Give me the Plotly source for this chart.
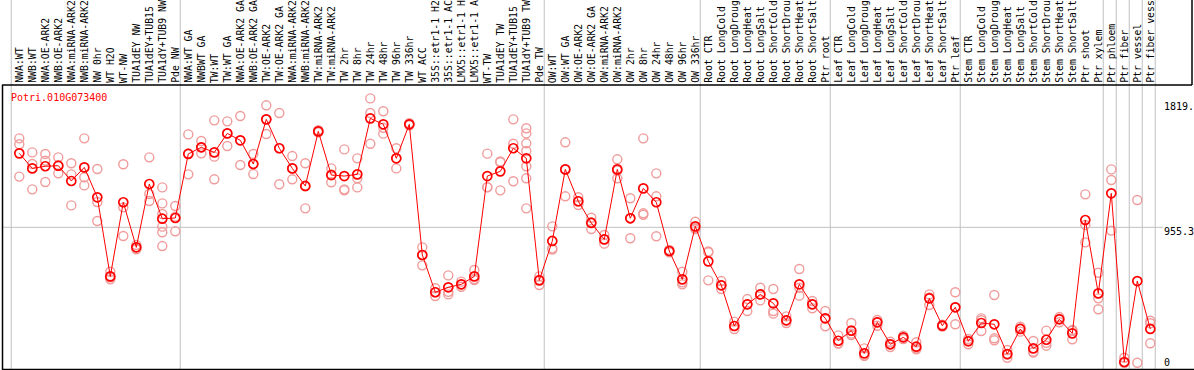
import plotly.graph_objects as go

title = "Potri.010G073400"

categories = [
    "NWA:WT", "NWB:WT", "NWA:OE-ARK2", "NWB:OE-ARK2", "NWA:miRNA-ARK2", "NWB:miRNA-ARK2",
    "NW 0hr", "WT H2O", "WT-NW", "TUA1dEY NW", "TUA1dEY+TUB15 NW", "TUA1dY+TUB9 NW", "Pde NW",
    "NWA:WT GA", "NWBWT GA", "TW:WT", "TW:WT GA", "NWA:OE-ARK2 GA", "NWB:OE-ARK2 GA",
    "TW:OE-ARK2", "TW:OE-ARK2 GA", "NWA:miRNA-ARK2 GA", "NWB:miRNA-ARK2 GA", "TW:miRNA-ARK2",
    "TW:miRNA-ARK2 GA", "TW 2hr", "TW 8hr", "TW 24hr", "TW 48hr", "TW 96hr", "TW 336hr",
    "WT ACC", "35S::etr1-1 H2O", "35S::etr1-1 ACC", "LMX5::etr1-1 H2O", "LMX5::etr1-1 ACC",
    "WT-TW", "TUA1dEY TW", "TUA1dEY+TUB15 TW", "TUA1dY+TUB9 TW", "Pde TW",
    "OW:WT", "OW:WT GA", "OW:OE-ARK2", "OW:OE-ARK2 GA", "OW:miRNA-ARK2", "OW:miRNA-ARK2 GA",
    "OW 2hr", "OW 8hr", "OW 24hr", "OW 48hr", "OW 96hr", "OW 336hr",
    "Root CTR", "Root LongCold", "Root LongDrought", "Root LongHeat", "Root LongSalt",
    "Root ShortCold", "Root ShortDrought", "Root ShortHeat", "Root ShortSalt", "Ptr root",
    "Leaf CTR", "Leaf LongCold", "Leaf LongDrought", "Leaf LongHeat", "Leaf LongSalt",
    "Leaf ShortCold", "Leaf ShortDrought", "Leaf ShortHeat", "Leaf ShortSalt", "Ptr leaf",
    "Stem CTR", "Stem LongCold", "Stem LongDrought", "Stem LongHeat", "Stem LongSalt",
    "Stem ShortCold", "Stem ShortDrought", "Stem ShortHeat", "Stem ShortSalt", "Ptr shoot",
    "Ptr xylem", "Ptr phloem", "Ptr fiber", "Ptr vessel", "Ptr fiber vessel",
]

means = [
    1477, 1371, 1386, 1390, 1282, 1378, 1167, 609, 1132, 814, 1261, 1016, 1021,
    1473, 1520, 1484, 1618, 1569, 1402, 1717, 1513, 1371, 1247, 1632, 1324, 1317, 1329,
    1724, 1682, 1442, 1682, 760, 497, 532, 553, 609, 1317, 1350, 1513, 1442, 581,
    859, 1364, 1139, 986, 870, 1364, 1019, 1230, 1132, 788, 588, 962,
    715, 546, 259, 412, 482, 419, 299, 553, 412, 313,
    155, 226, 66, 285, 130, 179, 113, 454, 261, 391,
    151, 280, 271, 61, 238, 101, 162, 306, 207, 1007,
    489, 1195, 5, 576, 238,
]

replicates = [
    [1583, 1541, 1313], [1484, 1402, 1223], [1473, 1425, 1275], [1449, 1388, 1336],
    [1407, 1329, 1110], [1583, 1308, 1251], [1367, 1134, 1000], [642, 602, 588],
    [1400, 1096, 894], [830, 814, 800], [1449, 1190, 1141],
    [1237, 1124, 1049, 960, 920, 823], [1106, 1030, 927],
    [1611, 1477, 1329], [1564, 1520, 1477], [1710, 1454, 1294], [1703, 1618, 1529],
    [1741, 1569, 1395], [1473, 1402, 1331], [1816, 1717, 1614], [1762, 1513, 1259],
    [1458, 1371, 1294], [1407, 1244, 1089], [1640, 1632, 1625], [1371, 1328, 1273],
    [1505, 1223, 1216], [1442, 1301, 1237], [1865, 1762, 1545], [1774, 1658, 1616],
    [1513, 1442, 1371], [1690, 1682, 1675], [814, 760, 687], [525, 497, 471],
    [616, 500, 482], [572, 553, 536], [654, 590, 583], [1475, 1239, 1237],
    [1420, 1414, 1216], [1717, 1545, 1280],
    [1654, 1618, 1548, 1494, 1386, 1301, 1089], [609, 586, 548],
    [962, 807, 798], [1555, 1363, 1174], [1167, 1137, 1113], [1023, 992, 943],
    [901, 870, 840], [1435, 1356, 1301], [1160, 1019, 878], [1583, 1054, 1044],
    [1336, 1174, 892], [795, 788, 779], [642, 567, 553], [995, 950, 943],
    [785, 779, 581], [576, 546, 520], [290, 259, 238], [449, 412, 365],
    [529, 482, 440], [520, 365, 346], [327, 299, 280], [661, 529, 473],
    [435, 412, 384], [365, 313, 257],
    [193, 137, 135], [280, 205, 195], [101, 50, 48], [301, 285, 261],
    [148, 130, 111], [191, 179, 167], [144, 101, 95], [482, 460, 407],
    [268, 261, 255], [497, 391, 271],
    [167, 155, 130], [313, 300, 224], [478, 172, 158], [90, 58, 35],
    [254, 240, 219], [153, 78, 72], [226, 140, 120], [322, 310, 285],
    [231, 225, 165], [1188, 972, 849],
    [635, 454, 377], [1364, 1289, 932], [35, 0, 0], [1148, 0], [296, 278, 137],
]

# group separators: index after which a vertical grid line is drawn
group_ends = [-1, 12, 40, 52, 62, 72, 83, 84, 85, 86, 87]
y_labels = ["1819.", "955.3", "0"]
y_label_values = [1819, 955.3, 0]
hline_value = 955.3
LABEL_CHARS = 14  # header labels show only what fits in the header band

W, H = 1194, 370
ML, MR, MT, MB = 2, 32, 85, 0
PW, PH = W - ML - MR, H - MT - MB
XMIN, XMAX = -1.331, 87.9
YMIN, YMAX = -51.5, 1959.4


def px_to_paper_x(px):
    return (px - ML) / PW


def px_to_paper_y(py):
    return (H - MB - py) / PH


def data_to_paper_x(xd):
    return (xd - XMIN) / (XMAX - XMIN)


xs = list(range(len(categories)))
rx, ry = [], []
for i, reps in enumerate(replicates):
    for v in reps:
        rx.append(i)
        ry.append(v)

fig = go.Figure()
fig.add_trace(go.Scatter(
    x=rx, y=ry, mode="markers",
    marker=dict(symbol="circle-open", size=9, color="#f09c9c", line=dict(width=1.4, color="#f09c9c")),
    hoverinfo="skip", showlegend=False, cliponaxis=False,
))
fig.add_trace(go.Scatter(
    x=xs, y=means, mode="lines+markers",
    line=dict(color="#ff0000", width=1),
    marker=dict(symbol="circle-open", size=9, color="#ff0000", line=dict(width=1.7, color="#ff0000")),
    showlegend=False, cliponaxis=False,
))

shapes = []
GRID = "#c0c0c0"
for g in group_ends:
    xp = data_to_paper_x(g + 0.38)
    shapes.append(dict(type="line", xref="paper", yref="paper", x0=xp, x1=xp,
                       y0=px_to_paper_y(H), y1=px_to_paper_y(0),
                       line=dict(color=GRID, width=1), layer="below"))
shapes.append(dict(type="line", xref="paper", yref="y", x0=0, x1=px_to_paper_x(1163),
                   y0=hline_value, y1=hline_value, line=dict(color=GRID, width=1), layer="below"))
# black frame lines
shapes.append(dict(type="line", xref="paper", yref="paper", x0=0, x1=px_to_paper_x(1192),
                   y0=1, y1=1, line=dict(color="black", width=1.5)))
shapes.append(dict(type="line", xref="paper", yref="paper", x0=px_to_paper_x(1192), x1=px_to_paper_x(1192),
                   y0=1, y1=px_to_paper_y(0), line=dict(color="black", width=1.5)))
shapes.append(dict(type="line", xref="paper", yref="paper", x0=px_to_paper_x(2.5), x1=px_to_paper_x(2.5),
                   y0=px_to_paper_y(370), y1=1, line=dict(color="black", width=1.5)))
shapes.append(dict(type="line", xref="paper", yref="paper", x0=0, x1=px_to_paper_x(1194),
                   y0=px_to_paper_y(369.5), y1=px_to_paper_y(369.5), line=dict(color="black", width=1.5)))

annotations = []
FONT = "DejaVu Sans Mono"
for i, c in enumerate(categories):
    annotations.append(dict(x=i, xref="x", y=1, yref="paper", text=c[:LABEL_CHARS].rstrip(), textangle=-90,
                            xanchor="center", yanchor="bottom", yshift=1, showarrow=False,
                            borderpad=0, font=dict(family=FONT, size=9.8, color="black")))
annotations.append(dict(x=px_to_paper_x(10), xref="paper", y=px_to_paper_y(97), yref="paper",
                        text=title, xanchor="left", yanchor="middle", showarrow=False, borderpad=0,
                        font=dict(family=FONT, size=10, color="#ff0000")))
for lab, v, sh in zip(y_labels, y_label_values, [-2, -4, 0]):
    annotations.append(dict(x=px_to_paper_x(1163), xref="paper", y=v, yref="y", text=lab,
                            xanchor="left", yanchor="middle", yshift=sh, showarrow=False, borderpad=0,
                            font=dict(family=FONT, size=10, color="black")))

fig.update_layout(
    width=W, height=H,
    margin=dict(l=ML, r=MR, t=MT, b=MB, pad=0),
    paper_bgcolor="white", plot_bgcolor="white",
    xaxis=dict(range=[XMIN, XMAX], showgrid=False, zeroline=False, showticklabels=False,
               ticks="", showline=False, fixedrange=True),
    yaxis=dict(range=[YMIN, YMAX], showgrid=False, zeroline=False, showticklabels=False,
               ticks="", showline=False, fixedrange=True),
    shapes=shapes, annotations=annotations, showlegend=False,
)

fig.write_html("out.html", config={"displayModeBar": False},
               post_script="document.body.style.margin='0';document.body.style.padding='0';")
